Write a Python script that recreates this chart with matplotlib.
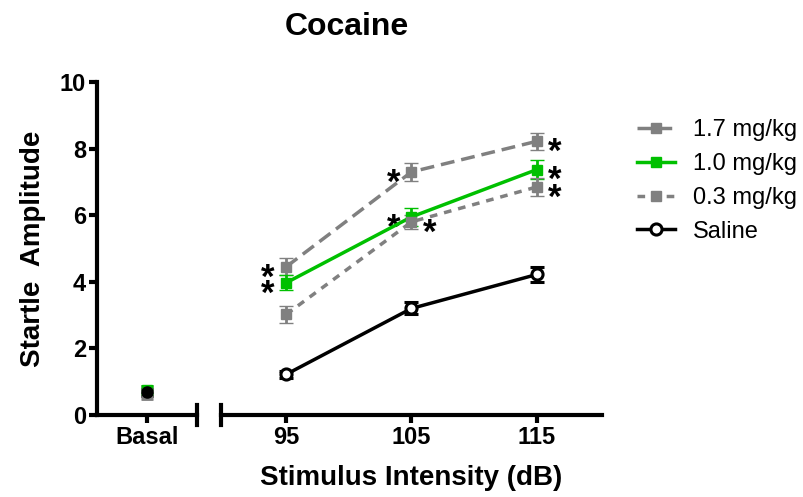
import matplotlib
matplotlib.use('Agg')
import matplotlib.pyplot as plt
from matplotlib.lines import Line2D

plt.rcParams['font.family'] = ['Liberation Sans', 'DejaVu Sans']

# данные
intensity = [95, 105, 115]
basal_label = 'Basal'

groups = ['1.7 mg/kg', '1.0 mg/kg', '0.3 mg/kg', 'Saline']
basal = {'1.7 mg/kg': 0.72, '1.0 mg/kg': 0.75, '0.3 mg/kg': 0.62, 'Saline': 0.68}
basal_err = {'1.7 mg/kg': 0.15, '1.0 mg/kg': 0.12, '0.3 mg/kg': 0.15, 'Saline': 0.1}
means = {
    '1.7 mg/kg': [4.45, 7.3, 8.22],
    '1.0 mg/kg': [3.97, 5.95, 7.37],
    '0.3 mg/kg': [3.02, 5.8, 6.85],
    'Saline': [1.22, 3.2, 4.22],
}
errs = {
    '1.7 mg/kg': [0.25, 0.28, 0.25],
    '1.0 mg/kg': [0.22, 0.28, 0.28],
    '0.3 mg/kg': [0.25, 0.22, 0.28],
    'Saline': [0.1, 0.18, 0.22],
}
# где звёздочки: -1 слева, +1 справа, 0 нет
stars = {
    '1.7 mg/kg': [-1, -1, 1],
    '1.0 mg/kg': [-1, -1, 1],
    '0.3 mg/kg': [0, 1, 1],
    'Saline': [0, 0, 0],
}

styles = {
    '1.7 mg/kg': dict(color='#808080', ls=(0, (4, 2)), marker='s', mfc='#808080', mec='#808080', ms=7),
    '1.0 mg/kg': dict(color='#00C000', ls='-', marker='s', mfc='#00C000', mec='#00C000', ms=7),
    '0.3 mg/kg': dict(color='#808080', ls=(0, (2.2, 2)), marker='s', mfc='#808080', mec='#808080', ms=7),
    'Saline': dict(color='black', ls='-', marker='o', mfc='white', mec='black', ms=8, mew=2.2),
}

fig = plt.figure(figsize=(8.04, 4.97), dpi=100)
H = 1 - 82 / 497 - (1 - 415 / 497)
axL = fig.add_axes([97 / 804, 1 - 415 / 497, 100 / 804, H])
axR = fig.add_axes([221 / 804, 1 - 415 / 497, 381 / 804, H], sharey=axL)

# левая часть (Basal)
for g in groups:
    st = styles[g]
    mfc = 'black' if g == 'Saline' else st['mfc']
    axL.errorbar([0], [basal[g]], yerr=[basal_err[g]], color=st['color'], marker=st['marker'],
                 mfc=mfc, mec=st['mec'], ms=st['ms'], ls='none', capsize=4, capthick=2, elinewidth=2)

axL.set_xlim(-1, 1)
axL.set_xticks([0])
axL.set_xticklabels([basal_label])
axL.set_ylim(0, 10)
axL.set_yticks([0, 2, 4, 6, 8, 10])
axL.spines['top'].set_visible(False)
axL.spines['right'].set_visible(False)
axL.set_ylabel('Startle  Amplitude', fontsize=20, fontweight='bold', labelpad=10)

# правая часть
handles = []
for g in groups:
    st = styles[g]
    axR.errorbar(intensity, means[g], yerr=errs[g], color=st['color'], ls=st['ls'], lw=2.5,
                 marker=st['marker'], mfc=st['mfc'], mec=st['mec'], ms=st['ms'],
                 mew=st.get('mew', 1), capsize=5, capthick=2, elinewidth=2, zorder=3)
    handles.append(Line2D([], [], color=st['color'], ls=st['ls'], lw=2.5, marker=st['marker'],
                          mfc=st['mfc'], mec=st['mec'], ms=st['ms'], mew=st.get('mew', 1)))
    for x, y, s in zip(intensity, means[g], stars[g]):
        if s:
            axR.annotate('*', (x, y), xytext=(s * 13, -8), textcoords='offset points',
                         ha='center', va='center', fontsize=25, fontweight='bold')

axR.set_xlim(89.8, 120.2)
axR.set_xticks(intensity)
axR.tick_params(axis='y', left=False, labelleft=False)
for sp in ['top', 'right', 'left']:
    axR.spines[sp].set_visible(False)

for ax in (axL, axR):
    for sp in ax.spines.values():
        sp.set_linewidth(3)
    ax.tick_params(width=3, length=6, labelsize=17, pad=2)
    for lab in ax.get_xticklabels() + ax.get_yticklabels():
        lab.set_fontweight('bold')

# засечки на разрыве оси
axL.plot([1, 1], [-0.03, 0.03], transform=axL.transAxes, color='black', lw=3, clip_on=False)
axR.plot([0, 0], [-0.03, 0.03], transform=axR.transAxes, color='black', lw=3, clip_on=False)

fig.text(347 / 804, 1 - 27 / 497, 'Cocaine', ha='center', va='center', fontsize=23, fontweight='bold')
fig.text(411 / 804, 1 - 478 / 497, 'Stimulus Intensity (dB)', ha='center', va='center',
         fontsize=20, fontweight='bold')

fig.legend(handles, groups, loc='upper left', bbox_to_anchor=(616 / 804, 1 - 98 / 497),
           frameon=False, fontsize=17, handlelength=1.6, handletextpad=0.75, labelspacing=0.5)

fig.savefig('out.png', dpi=100)
